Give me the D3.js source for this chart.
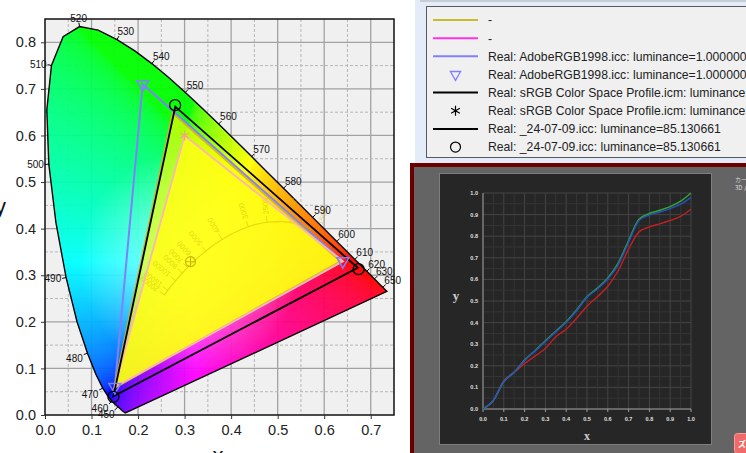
<!DOCTYPE html>
<html><head><meta charset="utf-8">
<script src="https://cdn.jsdelivr.net/npm/d3@7"></script>
<style>html,body{margin:0;padding:0;background:#fff;overflow:hidden}svg{display:block;font-family:"Liberation Sans",Arial,sans-serif}</style>
</head><body><svg id="c" width="746" height="453"></svg>
<script>
// ---------- DATA ----------
// CIE 1931 spectral locus: [wavelength, x, y]
const locus = [
 [380,0.1741,0.0050],[390,0.1738,0.0049],[400,0.1733,0.0048],[410,0.1726,0.0048],[420,0.1714,0.0051],
 [425,0.1703,0.0058],[430,0.1689,0.0069],[435,0.1669,0.0086],[440,0.1644,0.0109],[445,0.1611,0.0138],
 [450,0.1566,0.0177],[455,0.1510,0.0227],[460,0.1440,0.0297],[465,0.1355,0.0399],[470,0.1241,0.0578],
 [475,0.1096,0.0868],[480,0.0913,0.1327],[485,0.0687,0.2007],[490,0.0454,0.2950],[495,0.0235,0.4127],
 [500,0.0082,0.5384],[505,0.0039,0.6548],[510,0.0139,0.7502],[515,0.0389,0.8120],[520,0.0743,0.8338],
 [525,0.1142,0.8262],[530,0.1547,0.8059],[535,0.1929,0.7816],[540,0.2296,0.7543],[545,0.2658,0.7243],
 [550,0.3016,0.6923],[555,0.3373,0.6589],[560,0.3731,0.6245],[565,0.4087,0.5896],[570,0.4441,0.5547],
 [575,0.4788,0.5202],[580,0.5125,0.4866],[585,0.5448,0.4544],[590,0.5752,0.4242],[595,0.6029,0.3965],
 [600,0.6270,0.3725],[605,0.6482,0.3514],[610,0.6658,0.3340],[615,0.6801,0.3197],[620,0.6915,0.3083],
 [625,0.7006,0.2993],[630,0.7079,0.2920],[635,0.7140,0.2859],[640,0.7190,0.2809],[645,0.7230,0.2770],
 [650,0.7260,0.2740],[655,0.7283,0.2717],[660,0.7300,0.2700],[670,0.7320,0.2680],[680,0.7334,0.2666],
 [700,0.7347,0.2653]
];
const labelWavelengths = [450,460,470,480,490,500,510,520,530,540,550,560,570,580,590,600,610,620,630,650];
// Planckian locus: [kelvin, x, y]
const planck = [
 [1500,0.5857,0.3931],[2000,0.5267,0.4133],[2500,0.4770,0.4137],[3000,0.4369,0.4041],[3500,0.4053,0.3907],
 [4000,0.3805,0.3768],[4500,0.3608,0.3636],[5000,0.3451,0.3516],[5500,0.3325,0.3411],[6000,0.3221,0.3318],
 [6500,0.3135,0.3237],[7000,0.3064,0.3166],[8000,0.2952,0.3048],[9000,0.2869,0.2956],[10000,0.2807,0.2884],
 [12000,0.2719,0.2778],[15000,0.2637,0.2674],[20000,0.2565,0.2577]
];
const planckLabels = [1500,2000,2500,3000,4000,5000,6000,7000,8000,10000,15000,20000];
const whitePoint = [0.3127,0.3290];
// triangles
const oliveTri = [[0.635,0.330],[0.274,0.648],[0.149,0.058]];
const srgbTri = [[0.64,0.33],[0.30,0.60],[0.15,0.06]];
const adobeTri = [[0.64,0.33],[0.21,0.71],[0.15,0.06]];
const displayTri = [[0.672,0.316],[0.280,0.662],[0.147,0.040]];
const displayMarks = [[0.674,0.313],[0.2796,0.665],[0.147,0.039]];
const xTicks = [0,0.1,0.2,0.3,0.4,0.5,0.6,0.7];
const yTicks = [0,0.1,0.2,0.3,0.4,0.5,0.6,0.7,0.8];
// legend
const legendLabels = ['-','-',
 'Real: AdobeRGB1998.icc: luminance=1.000000','Real: AdobeRGB1998.icc: luminance=1.000000',
 'Real: sRGB Color Space Profile.icm: luminance=1.000000','Real: sRGB Color Space Profile.icm: luminance=1.000000',
 'Real: _24-07-09.icc: luminance=85.130661','Real: _24-07-09.icc: luminance=85.130661'];
const legendSymbols = ['line','line','line','tri','line','star','line','circle'];
const legendColors = ['#c8bc2c','#ff30f0','#8080ff','#8080ff','#000','#000','#000','#000'];
// inset tone curve chart
const curveX = [0,0.05,0.1,0.15,0.2,0.25,0.3,0.35,0.4,0.45,0.5,0.55,0.6,0.65,0.7,0.75,0.8,0.85,0.9,0.95,1.0];
const curveGreen = [0,0.04,0.127,0.17,0.227,0.27,0.316,0.36,0.404,0.458,0.52,0.56,0.607,0.675,0.78,0.878,0.905,0.92,0.937,0.962,1.0];
const curveBlue  = [0,0.04,0.127,0.17,0.225,0.268,0.313,0.357,0.401,0.455,0.517,0.556,0.602,0.668,0.772,0.872,0.898,0.912,0.928,0.948,0.98];
const curveRed   = [0,0.04,0.13,0.17,0.21,0.245,0.28,0.335,0.369,0.42,0.476,0.52,0.568,0.64,0.74,0.82,0.843,0.857,0.873,0.892,0.925];
const insetTicks = [0,0.1,0.2,0.3,0.4,0.5,0.6,0.7,0.8,0.9,1.0];

// ---------- DRAW ----------
const svg = d3.select('#c');
svg.append('rect').attr('width',746).attr('height',453).attr('fill','#fff');
svg.append('rect').attr('x',415).attr('y',0).attr('width',331).attr('height',163).attr('fill','#e3ecf8');
svg.append('rect').attr('x',420).attr('y',0).attr('width',326).attr('height',2).attr('fill','#c7cdd6');

const X0=45, X1=394, Y0=415, Y1=19;
const xS = d3.scaleLinear().domain([0,0.75]).range([X0,X1]);
const yS = d3.scaleLinear().domain([0,0.85]).range([Y0,Y1]);
const defs = svg.append('defs');
const g = svg.append('g');

g.append('rect').attr('x',X0).attr('y',Y1).attr('width',X1-X0).attr('height',Y0-Y1).attr('fill','#f0f0f0');
// grid
const gx = d3.range(1,15).map(i=>i*0.05), gy = d3.range(1,17).map(i=>i*0.05);
gx.forEach((v,i)=>{ const major = (i%2===1);
  g.append('line').attr('x1',xS(v)).attr('x2',xS(v)).attr('y1',Y1).attr('y2',Y0)
   .attr('stroke',major?'#a2a2a2':'#b6b6b6').attr('stroke-width',major?1.3:1).attr('stroke-dasharray',major?null:'3,2');});
gy.forEach((v,i)=>{ const major = (i%2===1);
  g.append('line').attr('y1',yS(v)).attr('y2',yS(v)).attr('x1',X0).attr('x2',X1)
   .attr('stroke',major?'#a2a2a2':'#b6b6b6').attr('stroke-width',major?1.3:1).attr('stroke-dasharray',major?null:'3,2');});

// chromaticity colours
function chroma(cx,cy){
  cy=Math.max(cy,0.0005);
  const Xc=cx/cy, Yc=1, Zc=(1-cx-cy)/cy;
  let r=3.2406*Xc-1.5372*Yc-0.4986*Zc, gg=-0.9689*Xc+1.8758*Yc+0.0415*Zc, b=0.0557*Xc-0.2040*Yc+1.0570*Zc;
  const mn=Math.min(r,gg,b); if(mn<0){ r-=mn*0.06; gg-=mn*0.06; b-=mn*0.06; }
  r=Math.max(r,0); gg=Math.max(gg,0); b=Math.max(b,0);
  const m=Math.max(r,gg,b)||1; 
  const gam=v=>{v/=m; v= v<=0.0031308?12.92*v:1.055*Math.pow(v,1/2.4)-0.055; return 255*Math.min(1,v);};
  const d=Math.hypot(cx-whitePoint[0],cy-whitePoint[1]); const t=Math.max(0,1-d/0.24)*0.65;
  return [gam(r),gam(gg),gam(b)].map(v=>Math.round(v+(255-v)*t));
}
const W=X1-X0, H=Y0-Y1;
const cv=document.createElement('canvas'); cv.width=W; cv.height=H;
const ctx=cv.getContext('2d'); const img=ctx.createImageData(W,H);
for(let j=0;j<H;j++){ const cy=yS.invert(Y1+j+0.5);
  for(let i=0;i<W;i++){ const cx=xS.invert(X0+i+0.5); const c=chroma(cx,cy); const k=(j*W+i)*4;
    img.data[k]=c[0]; img.data[k+1]=c[1]; img.data[k+2]=c[2]; img.data[k+3]=255; } }
ctx.putImageData(img,0,0);
const locusLine = d3.line().x(d=>xS(d[1])).y(d=>yS(d[2])).curve(d3.curveLinearClosed);
defs.append('clipPath').attr('id','locusClip').append('path').attr('d',locusLine(locus));
g.append('image').attr('href',cv.toDataURL()).attr('x',X0).attr('y',Y1).attr('width',W).attr('height',H)
 .attr('clip-path','url(#locusClip)').attr('opacity',0.95).attr('preserveAspectRatio','none');
g.append('path').attr('d',locusLine(locus)).attr('fill','none').attr('stroke','#000').attr('stroke-width',1.4);

const triLine = d3.line().x(d=>xS(d[0])).y(d=>yS(d[1])).curve(d3.curveLinearClosed);
// Adobe RGB triangle (under the fills)
g.append('path').attr('d',triLine(adobeTri)).attr('fill','none').attr('stroke','#8080ff').attr('stroke-width',2);

// fills
g.append('path').attr('d',triLine(oliveTri)).attr('fill','rgba(255,255,0,0.66)');
g.append('path').attr('d',triLine(srgbTri)).attr('fill','rgba(255,255,20,0.8)');

// Planckian locus (faint)
const pc='rgba(205,185,0,0.5)';
const pLine=d3.line().x(d=>xS(d[1])).y(d=>yS(d[2])).curve(d3.curveCatmullRom);
g.append('path').attr('d',pLine(planck)).attr('fill','none').attr('stroke',pc).attr('stroke-width',1.2);
planckLabels.forEach(T=>{
  const i=planck.findIndex(d=>d[0]===T); const a=planck[Math.max(0,i-1)], b=planck[Math.min(planck.length-1,i+1)];
  const px=xS(planck[i][1]), py=yS(planck[i][2]);
  let tx=xS(b[1])-xS(a[1]), ty=yS(b[2])-yS(a[2]); const L=Math.hypot(tx,ty); tx/=L; ty/=L;
  let nx=ty, ny=-tx; if(ny>0){nx=-nx;ny=-ny;}
  g.append('line').attr('x1',px).attr('y1',py).attr('x2',px+nx*6).attr('y2',py+ny*6).attr('stroke',pc);
  const ang=Math.atan2(ny,nx)*180/Math.PI;
  g.append('text').attr('transform',`translate(${px+nx*8},${py+ny*8}) rotate(${ang})`).attr('dy','0.35em')
   .attr('font-size',7.5).attr('fill','rgba(195,175,0,0.5)').text(T);
});
g.append('circle').attr('cx',xS(whitePoint[0])).attr('cy',yS(whitePoint[1])).attr('r',5).attr('fill','none').attr('stroke','rgba(190,170,0,0.8)').attr('stroke-width',1.2);
g.append('path').attr('d',`M${xS(whitePoint[0])-5},${yS(whitePoint[1])}h10M${xS(whitePoint[0])},${yS(whitePoint[1])-5}v10`).attr('stroke','rgba(190,170,0,0.8)');

// outlines
g.append('path').attr('d',triLine(oliveTri)).attr('fill','none').attr('stroke','#d2b420').attr('stroke-width',2).attr('opacity',0.9);
g.append('path').attr('d',triLine(srgbTri)).attr('fill','none').attr('stroke','#ffb4b4').attr('stroke-width',1.8);
g.append('path').attr('d',triLine(displayTri)).attr('fill','none').attr('stroke','#000').attr('stroke-width',1.8);
// markers
const tri = d3.symbol().type(d3.symbolTriangle).size(62);
adobeTri.forEach(d=>g.append('path').attr('d',tri()).attr('transform',`translate(${xS(d[0])},${yS(d[1])}) rotate(180)`)
  .attr('fill','none').attr('stroke','#8080ff').attr('stroke-width',1.5));
const star = d3.symbol().type(d3.symbolAsterisk).size(70);
g.append('path').attr('d',star()).attr('transform',`translate(${xS(srgbTri[1][0])},${yS(srgbTri[1][1])})`).attr('fill','none').attr('stroke','#f0a878').attr('stroke-width',1.3);
displayMarks.forEach(d=>g.append('circle').attr('cx',xS(d[0])).attr('cy',yS(d[1])).attr('r',5.5).attr('fill','none').attr('stroke','#000').attr('stroke-width',1.3));

// wavelength labels
const cx0=xS(0.33), cy0=yS(0.33);
labelWavelengths.forEach(w=>{
  const i=locus.findIndex(d=>d[0]===w); const a=locus[i-1], b=locus[i+1];
  const px=xS(locus[i][1]), py=yS(locus[i][2]);
  let tx=xS(b[1])-xS(a[1]), ty=yS(b[2])-yS(a[2]); const L=Math.hypot(tx,ty); tx/=L; ty/=L;
  let nx=ty, ny=-tx; if(nx*(px-cx0)+ny*(py-cy0)<0){nx=-nx;ny=-ny;}
  g.append('line').attr('x1',px).attr('y1',py).attr('x2',px+nx*4).attr('y2',py+ny*4).attr('stroke','#000').attr('stroke-width',1);
  const anchor = nx>0.3?'start':(nx<-0.3?'end':'middle');
  const dy = ny<-0.3?'0em':(ny>0.3?'0.75em':'0.35em');
  g.append('text').attr('x',px+nx*5-(anchor==='start'?2:0)).attr('y',py+ny*5).attr('dy',dy).attr('text-anchor',anchor)
   .attr('font-size',10).attr('fill','#111').text(w);
});

// frame and axes
g.append('rect').attr('x',X0).attr('y',Y1).attr('width',W).attr('height',H).attr('fill','none').attr('stroke','#111').attr('stroke-width',1.5);
const ax=g.append('g').attr('transform',`translate(0,${Y0})`).call(d3.axisBottom(xS).tickValues(xTicks).tickFormat(d3.format('.1f')).tickSize(4).tickPadding(6));
const ay=g.append('g').attr('transform',`translate(${X0},0)`).call(d3.axisLeft(yS).tickValues(yTicks).tickFormat(d3.format('.1f')).tickSize(4).tickPadding(5));
[ax,ay].forEach(a=>{a.select('.domain').remove(); a.selectAll('text').attr('font-size',14.5).attr('fill','#222').attr('font-family','"Liberation Sans",Arial,sans-serif'); a.selectAll('line').attr('stroke','#333');});
g.append('text').attr('x',218).attr('y',463).attr('font-size',22).attr('text-anchor','middle').attr('fill','#111').text('x');
g.append('text').attr('x',-5).attr('y',214).attr('font-size',22).attr('fill','#111').text('y');

// ---------- LEGEND ----------
const lg=svg.append('g');
lg.append('rect').attr('x',426.5).attr('y',6.5).attr('width',340).attr('height',151).attr('fill','#f0f0f0').attr('stroke','#5a5a5a');
legendLabels.forEach((t,i)=>{
  const yy=20+i*18.15, c=legendColors[i], s=legendSymbols[i];
  if(s==='line') lg.append('line').attr('x1',433).attr('x2',478).attr('y1',yy).attr('y2',yy).attr('stroke',c).attr('stroke-width',2);
  if(s==='tri') lg.append('path').attr('d',d3.symbol().type(d3.symbolTriangle).size(45)()).attr('transform',`translate(455.5,${yy}) rotate(180)`).attr('fill','none').attr('stroke',c).attr('stroke-width',1.3);
  if(s==='star') lg.append('path').attr('d',star()).attr('transform',`translate(455.5,${yy})`).attr('fill','none').attr('stroke',c).attr('stroke-width',1.2);
  if(s==='circle') lg.append('circle').attr('cx',455.5).attr('cy',yy).attr('r',5).attr('fill','none').attr('stroke',c).attr('stroke-width',1.2);
  lg.append('text').attr('x',488).attr('y',yy).attr('dy','0.36em').attr('font-size',12.2).attr('fill','#222').text(t);
});

// ---------- INSET SCREENSHOT ----------
const ins=svg.append('g');
ins.append('rect').attr('x',410).attr('y',163).attr('width',340).attr('height',295).attr('fill','#6a0000');
ins.append('rect').attr('x',414).attr('y',167).attr('width',336).attr('height',290).attr('fill','#646464');
ins.append('rect').attr('x',439.5).attr('y',173.5).attr('width',272).attr('height',271).attr('fill','#262626').attr('stroke','#7e7e7e');
const ix=d3.scaleLinear().domain([0,1]).range([483,691]);
const iy=d3.scaleLinear().domain([0,1]).range([409,193]);
d3.range(0,21).forEach(i=>{ const v=i*0.05, major=i%2===0;
  ins.append('line').attr('x1',ix(v)).attr('x2',ix(v)).attr('y1',iy(0)).attr('y2',iy(1)).attr('stroke',major?'#454545':'#353535');
  ins.append('line').attr('y1',iy(v)).attr('y2',iy(v)).attr('x1',ix(0)).attr('x2',ix(1)).attr('stroke',major?'#454545':'#353535');
});
ins.append('line').attr('x1',ix(0)).attr('x2',ix(1)).attr('y1',iy(0)).attr('y2',iy(0)).attr('stroke','#9a9a9a');
ins.append('line').attr('x1',ix(0)).attr('x2',ix(0)).attr('y1',iy(0)).attr('y2',iy(1)).attr('stroke','#9a9a9a');
insetTicks.forEach(v=>{
  ins.append('line').attr('x1',ix(v)).attr('x2',ix(v)).attr('y1',iy(0)).attr('y2',iy(0)+3).attr('stroke','#9a9a9a');
  ins.append('text').attr('x',ix(v)).attr('y',iy(0)+12).attr('text-anchor','middle').attr('font-size',5.5).attr('font-weight','bold').attr('fill','#e0e0e0').text(v.toFixed(1));
  ins.append('text').attr('x',478).attr('y',iy(v)).attr('dy','0.35em').attr('text-anchor','end').attr('font-size',5.5).attr('font-weight','bold').attr('fill','#e0e0e0').text(v.toFixed(1));
});
const cl=d3.line().x((d,i)=>ix(curveX[i])).y(d=>iy(d)).curve(d3.curveMonotoneX);
ins.append('path').attr('d',cl(curveRed)).attr('fill','none').attr('stroke','#c42020').attr('stroke-width',1.4);
ins.append('path').attr('d',cl(curveGreen)).attr('fill','none').attr('stroke','#2ea82e').attr('stroke-width',1.5);
ins.append('path').attr('d',cl(curveBlue)).attr('fill','none').attr('stroke','#2850c8').attr('stroke-width',1.4);
ins.append('text').attr('x',587).attr('y',440).attr('text-anchor','middle').attr('font-size',12).attr('font-family','"Liberation Serif",serif').attr('font-weight','bold').attr('fill','#cfcfcf').text('x');
ins.append('text').attr('x',456).attr('y',300).attr('text-anchor','middle').attr('font-size',13).attr('font-family','"Liberation Serif",serif').attr('font-weight','bold').attr('fill','#cfcfcf').text('y');
ins.append('text').attr('x',735).attr('y',182).attr('font-size',6).attr('fill','#dddddd').attr('font-family','"Noto Sans CJK JP",sans-serif').text('カーブ');
ins.append('text').attr('x',735).attr('y',190).attr('font-size',6).attr('fill','#dddddd').attr('font-family','"Noto Sans CJK JP",sans-serif').text('3D パネル');
ins.append('rect').attr('x',734.5).attr('y',433.5).attr('width',30).attr('height',20).attr('rx',3).attr('fill','#f06a6a').attr('stroke','#ff9a9a');
ins.append('text').attr('x',738).attr('y',447).attr('font-size',8).attr('font-weight','bold').attr('fill','#fff').attr('font-family','"Noto Sans CJK JP",sans-serif').text('ズーム');
</script></body></html>
